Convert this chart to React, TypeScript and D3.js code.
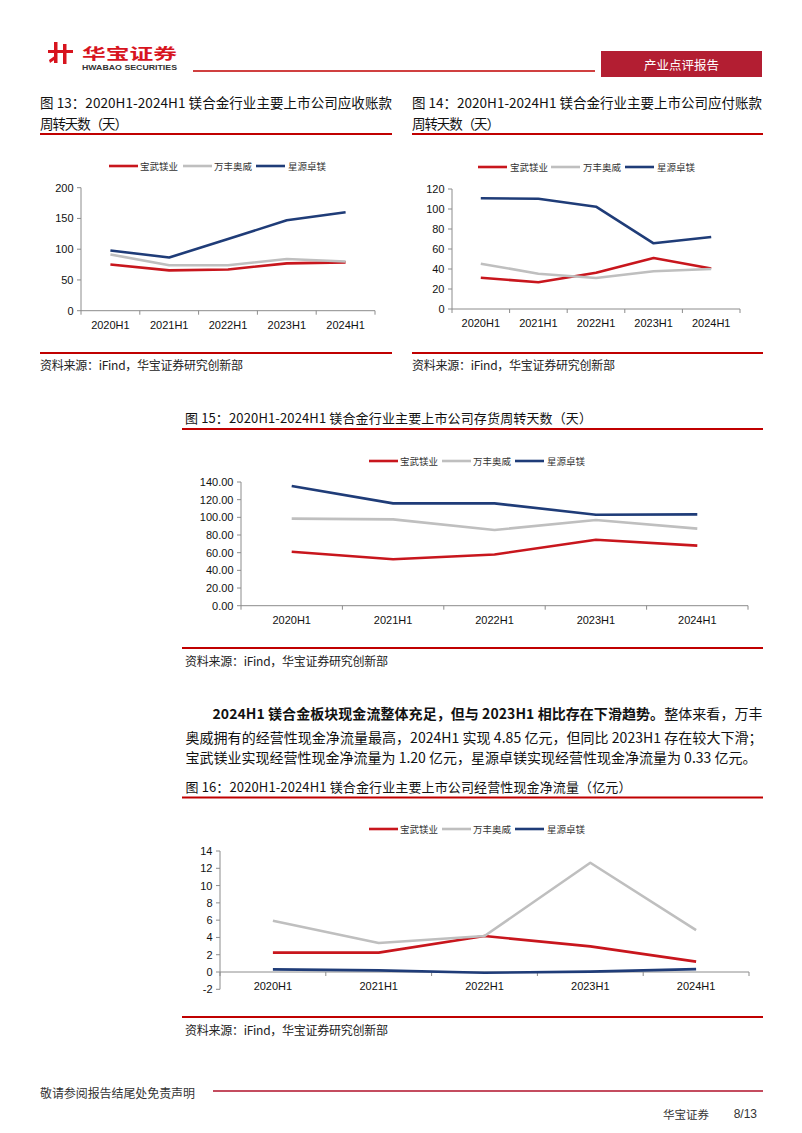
import React from 'react';
import * as d3 from 'd3';

const categories = ['2020H1', '2021H1', '2022H1', '2023H1', '2024H1'];
const seriesNames = ['宝武镁业', '万丰奥威', '星源卓镁'];
const seriesColors = ['#C8161D', '#BFBFBF', '#1F3C78'];

// 图13 应收账款周转天数
const arBaowu = [75, 65.5, 67, 77, 78.5];
const arWanfeng = [91.5, 74, 74, 84, 80];
const arXingyuan = [98, 86.5, 116.5, 147, 160];
const arTicks = [0, 50, 100, 150, 200];

// 图14 应付账款周转天数
const apBaowu = [31.3, 26.7, 36.3, 51, 40.5];
const apWanfeng = [45.3, 35.3, 31, 37.7, 40];
const apXingyuan = [110.7, 110.3, 102.3, 65.7, 72];
const apTicks = [0, 20, 40, 60, 80, 100, 120];

// 图15 存货周转天数
const invBaowu = [61, 52.5, 58, 74.7, 68];
const invWanfeng = [98.5, 97.7, 85.7, 97, 87.2];
const invXingyuan = [135.5, 115.8, 115.8, 103, 103.4];
const invTicks = [0, 20, 40, 60, 80, 100, 120, 140];

// 图16 经营性现金净流量（亿元）
const cfBaowu = [2.24, 2.24, 4.16, 2.97, 1.2];
const cfWanfeng = [5.94, 3.35, 4.16, 12.64, 4.85];
const cfXingyuan = [0.31, 0.19, -0.08, 0.04, 0.33];
const cfTicks = [-2, 0, 2, 4, 6, 8, 10, 12, 14];

const RED = '#C00000';
const CJK = '"Noto Sans CJK SC", "Noto Sans", sans-serif';
const LAT = '"Liberation Sans", Arial, sans-serif';

type ChartProps = {
  x0: number; x1: number; yTop: number; yBot: number;
  domain: [number, number]; ticks: number[]; fmt: (v: number) => string;
  data: number[][]; legendY: number; legendLines: number[]; legendTexts: number[];
};

function LineChart(p: ChartProps) {
  const x = d3.scaleBand<string>().domain(categories).range([p.x0, p.x1]);
  const y = d3.scaleLinear().domain(p.domain).range([p.yBot, p.yTop]);
  const cx = (i: number) => (x(categories[i]) as number) + x.bandwidth() / 2;
  const line = d3.line<number>().x((_, i) => cx(i)).y((d) => y(d));
  const y0 = y(0);
  const axisColor = '#8C8C8C';
  const edges = categories.map((c) => x(c) as number).concat([p.x1]);
  return (
    <g>
      {seriesNames.map((n, i) => (
        <g key={n}>
          <line x1={p.legendLines[i]} x2={p.legendLines[i] + 29} y1={p.legendY} y2={p.legendY}
            stroke={seriesColors[i]} strokeWidth={2.6} />
          <text x={p.legendTexts[i]} y={p.legendY} dominantBaseline="central" fontFamily={CJK}
            fontSize={9.5} fill="#333" textLength={38} lengthAdjust="spacing">{n}</text>
        </g>
      ))}
      <line x1={p.x0} x2={p.x0} y1={p.yTop} y2={p.yBot} stroke={axisColor} strokeWidth={1} />
      {p.ticks.map((t) => (
        <g key={t}>
          <line x1={p.x0 - 4} x2={p.x0} y1={y(t)} y2={y(t)} stroke={axisColor} />
          <text x={p.x0 - 7.5} y={y(t)} textAnchor="end" dominantBaseline="central"
            fontFamily={LAT} fontSize={11} fill="#111">{p.fmt(t)}</text>
        </g>
      ))}
      <line x1={p.x0} x2={p.x1} y1={y0} y2={y0} stroke={axisColor} strokeWidth={1} />
      {edges.map((e, i) => (
        <line key={i} x1={e} x2={e} y1={y0} y2={y0 + 4} stroke={axisColor} />
      ))}
      {categories.map((c, i) => (
        <text key={c} x={cx(i)} y={y0 + 14} textAnchor="middle" dominantBaseline="central"
          fontFamily={LAT} fontSize={11} fill="#111">{c}</text>
      ))}
      {p.data.map((s, i) => (
        <path key={i} d={line(s) as string} fill="none" stroke={seriesColors[i]}
          strokeWidth={2.6} strokeLinejoin="round" />
      ))}
    </g>
  );
}

function Rule({ x1, x2, y }: { x1: number; x2: number; y: number }) {
  return <line x1={x1} x2={x2} y1={y} y2={y} stroke={RED} strokeWidth={2} />;
}

function Source({ x, y }: { x: number; y: number }) {
  return (
    <text x={x} y={y} dominantBaseline="central" fontFamily={CJK} fontSize={12} fill="#222"
      textLength={203} lengthAdjust="spacing">资料来源：iFind，华宝证券研究创新部</text>
  );
}

export default function App() {
  const f0 = (v: number) => String(v);
  const f2 = (v: number) => d3.format('.2f')(v);
  return (
    <svg width={802} height={1133} viewBox="0 0 802 1133"
      style={{ position: 'absolute', left: 0, top: 0, display: 'block', background: '#fff' }}>
      <rect width={802} height={1133} fill="#fff" />
      <g fill="#D7141E">
        <rect x={54} y={42} width={3.5} height={21} />
        <rect x={63} y={44} width={3.5} height={20} />
        <rect x={48} y={50} width={25} height={3} />
        <polygon points="49,60 56,55 57,58 50,63" />
      </g>
      <text x={82} y={52} dominantBaseline="central" fontFamily={CJK} fontWeight={700} fontSize={15}
        fill="#D7141E" textLength={95} lengthAdjust="spacingAndGlyphs">华宝证券</text>
      <text x={82} y={67.5} dominantBaseline="central" fontFamily={LAT} fontWeight={700} fontSize={6.5}
        fill="#333" textLength={95} lengthAdjust="spacingAndGlyphs">HWABAO SECURITIES</text>
      <line x1={193} x2={595} y1={71} y2={71} stroke={RED} strokeWidth={1.5} />
      <rect x={601} y={51} width={161} height={26} fill="#B31E32" />
      <text x={681.5} y={64} textAnchor="middle" dominantBaseline="central" fontFamily={CJK}
        fontSize={12.5} fill="#fff">产业点评报告</text>

      <text x={40} y={101.7} dominantBaseline="central" fontFamily={CJK} fontSize={13.5} fill="#111"
        textLength={352} lengthAdjust="spacing">图 13：2020H1-2024H1 镁合金行业主要上市公司应收账款</text>
      <text x={40} y={122.7} dominantBaseline="central" fontFamily={CJK} fontSize={13.5} fill="#111"
        textLength={88} lengthAdjust="spacing">周转天数（天）</text>
      <Rule x1={40} x2={392} y={134} />
      <LineChart x0={81} x1={375} yTop={187.7} yBot={310.7} domain={[0, 200]} ticks={arTicks} fmt={f0}
        data={[arBaowu, arWanfeng, arXingyuan]} legendY={166}
        legendLines={[109, 183, 256]} legendTexts={[140, 214, 288]} />
      <Rule x1={40} x2={392} y={353} />
      <Source x={40} y={364} />

      <text x={412} y={101.7} dominantBaseline="central" fontFamily={CJK} fontSize={13.5} fill="#111"
        textLength={350} lengthAdjust="spacing">图 14：2020H1-2024H1 镁合金行业主要上市公司应付账款</text>
      <text x={412} y={122.7} dominantBaseline="central" fontFamily={CJK} fontSize={13.5} fill="#111"
        textLength={88} lengthAdjust="spacing">周转天数（天）</text>
      <Rule x1={412} x2={763} y={134} />
      <LineChart x0={452} x1={740} yTop={189} yBot={309} domain={[0, 120]} ticks={apTicks} fmt={f0}
        data={[apBaowu, apWanfeng, apXingyuan]} legendY={167}
        legendLines={[478, 551, 625]} legendTexts={[510, 583, 657]} />
      <Rule x1={412} x2={763} y={353} />
      <Source x={412} y={364} />

      <text x={185} y={417} dominantBaseline="central" fontFamily={CJK} fontSize={13} fill="#111"
        textLength={407} lengthAdjust="spacing">图 15：2020H1-2024H1 镁合金行业主要上市公司存货周转天数（天）</text>
      <Rule x1={182} x2={763} y={429} />
      <LineChart x0={241} x1={748} yTop={482} yBot={605.7} domain={[0, 140]} ticks={invTicks} fmt={f2}
        data={[invBaowu, invWanfeng, invXingyuan]} legendY={461}
        legendLines={[369, 442, 515]} legendTexts={[400, 473, 547]} />
      <Rule x1={182} x2={763} y={648} />
      <Source x={185} y={660} />

      <text x={212.5} y={713} dominantBaseline="central" fontFamily={CJK} fontSize={14} fill="#111"
        textLength={550} lengthAdjust="spacing">
        <tspan fontWeight={700}>2024H1 镁合金板块现金流整体充足，但与 2023H1 相比存在下滑趋势。</tspan>
        <tspan>整体来看，万丰</tspan>
      </text>
      <text x={185.5} y={736.5} dominantBaseline="central" fontFamily={CJK} fontSize={14} fill="#111"
        textLength={577} lengthAdjust="spacing">奥威拥有的经营性现金净流量最高，2024H1 实现 4.85 亿元，但同比 2023H1 存在较大下滑；</text>
      <text x={185.5} y={757} dominantBaseline="central" fontFamily={CJK} fontSize={14} fill="#111">
        宝武镁业实现经营性现金净流量为 1.20 亿元，星源卓镁实现经营性现金净流量为 0.33 亿元。</text>

      <text x={185.5} y={786} dominantBaseline="central" fontFamily={CJK} fontSize={13} fill="#111"
        textLength={446} lengthAdjust="spacing">图 16：2020H1-2024H1 镁合金行业主要上市公司经营性现金净流量（亿元）</text>
      <Rule x1={182} x2={763} y={797.5} />
      <LineChart x0={220} x1={749} yTop={851} yBot={989.3} domain={[-2, 14]} ticks={cfTicks} fmt={f0}
        data={[cfBaowu, cfWanfeng, cfXingyuan]} legendY={829}
        legendLines={[369, 442, 515]} legendTexts={[400, 473, 547]} />
      <Rule x1={182} x2={763} y={1017} />
      <Source x={185} y={1029} />

      <text x={40} y={1092} dominantBaseline="central" fontFamily={CJK} fontSize={12} fill="#333"
        textLength={155} lengthAdjust="spacing">敬请参阅报告结尾处免责声明</text>
      <line x1={213} x2={763} y1={1091} y2={1091} stroke="#B0102A" strokeWidth={1.5} />
      <text x={663} y={1114} dominantBaseline="central" fontFamily={CJK} fontSize={11.5} fill="#333"
        textLength={46} lengthAdjust="spacing">华宝证券</text>
      <text x={757} y={1114} textAnchor="end" dominantBaseline="central" fontFamily={LAT} fontSize={12}
        fill="#333">8/13</text>
    </svg>
  );
}
